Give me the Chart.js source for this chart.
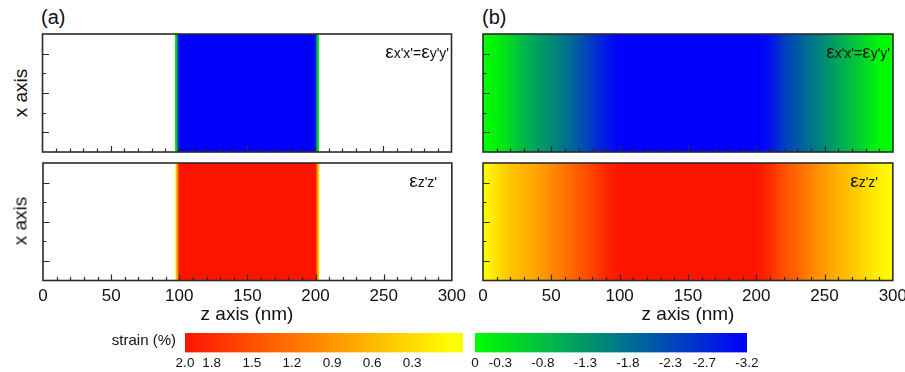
<!DOCTYPE html>
<html>
<head>
<meta charset="utf-8">
<script src="https://cdn.jsdelivr.net/npm/chart.js@4.4.1/dist/chart.umd.min.js"></script>
<style>
  body { margin: 0; background: #fff; }
  #wrap { position: relative; width: 905px; height: 372px; overflow: hidden; font-family: "Liberation Sans", Arial, sans-serif; color: #111; }
  canvas { position: absolute; }
  .txt { position: absolute; white-space: nowrap; line-height: 1; }
  .eps { font-size: 19px; }
  .lbl { font-size: 14px; line-height: 20px; text-align: right; }
</style>
</head>
<body>
<div id="wrap">
  <canvas id="topA" width="414" height="122" style="left:40px;top:32px"></canvas>
  <canvas id="topB" width="414" height="122" style="left:481px;top:32px"></canvas>
  <canvas id="botA" width="449" height="158" style="left:22.5px;top:160.5px"></canvas>
  <canvas id="botB" width="450" height="158" style="left:463px;top:160.5px"></canvas>
  <canvas id="barWarm" width="338" height="42" style="left:155px;top:331px"></canvas>
  <canvas id="barCool" width="332" height="42" style="left:445px;top:331px"></canvas>

  <div class="txt" style="left:41px;top:7px;font-size:20px">(a)</div>
  <div class="txt" style="left:482px;top:7px;font-size:20px">(b)</div>
  <div class="txt" style="left:20px;top:93px;font-size:19px;transform:translate(-50%,-50%) rotate(-90deg)">x axis</div>
  <div class="txt" style="left:20px;top:221px;font-size:19px;transform:translate(-50%,-50%) rotate(-90deg)">x axis</div>
  <div class="txt" style="left:247px;top:304px;font-size:19px;transform:translateX(-50%)">z axis (nm)</div>
  <div class="txt" style="left:688px;top:304px;font-size:19px;transform:translateX(-50%)">z axis (nm)</div>
  <div class="txt" style="right:729px;top:332px;font-size:15px">strain (%)</div>

  <div class="txt lbl" style="right:456px;top:42px"><span class="eps">ε</span>x'x'=<span class="eps">ε</span>y'y'</div>
  <div class="txt lbl" style="right:15px;top:42px"><span class="eps">ε</span>x'x'=<span class="eps">ε</span>y'y'</div>
  <div class="txt lbl" style="right:468px;top:171px"><span class="eps">ε</span>z'z'</div>
  <div class="txt lbl" style="right:27px;top:171px"><span class="eps">ε</span>z'z'</div>
</div>
<script>
// (a) strained film only between ~97 and ~203 nm
const zFilm = [97, 98.5, 100, 150, 200, 201.5, 203];
const inPlaneFilm = [0, -0.8, -3.2, -3.2, -3.2, -0.8, 0];
const outPlaneFilm = [0, 0.8, 2.0, 2.0, 2.0, 0.8, 0];

// (b) graded profile over the whole 0-300 nm
const zGraded = [0, 10, 20, 30, 40, 50, 60, 70, 80, 90, 100, 110, 120, 130, 140, 150,
                 160, 170, 180, 190, 200, 210, 220, 230, 240, 250, 260, 270, 280, 290, 300];
const inPlaneGraded = [0, -0.15, -0.5, -0.9, -1.2, -1.45, -1.75, -2.1, -2.5, -2.9, -3.2,
                       -3.2, -3.2, -3.2, -3.2, -3.2, -3.2, -3.2, -3.2, -3.2, -3.2,
                       -3.0, -2.45, -2.1, -1.75, -1.45, -1.1, -0.8, -0.45, -0.1, 0];
const outPlaneGraded = [0, 0.25, 0.5, 0.65, 0.8, 1.0, 1.2, 1.4, 1.6, 1.85, 2.0,
                        2.0, 2.0, 2.0, 2.0, 2.0, 2.0, 2.0, 2.0, 2.0, 2.0,
                        1.8, 1.5, 1.3, 1.05, 0.85, 0.65, 0.5, 0.3, 0.12, 0];

const zTickLabels = [0, 50, 100, 150, 200, 250, 300];
const rowTop = 6;   // x axis has no numbers, only 6 tick rows

// colour maps
const coolStops = [0, -3.2];
const coolColors = ['#00ff00', '#0000ff'];
const warmStops = [0, 2.0];
const warmColors = ['#ffff00', '#ff1400'];

// colour bars
const warmBar = [2.0, -0.08];
const coolBar = [0, -3.2];
const warmTicks = [2.0, 1.8, 1.5, 1.2, 0.9, 0.6, 0.3];
const warmTickLabels = ['2.0', '1.8', '1.5', '1.2', '0.9', '0.6', '0.3'];
const coolTicks = [0, -0.3, -0.8, -1.3, -1.8, -2.3, -2.7, -3.2];
const coolTickLabels = ['0', '-0.3', '-0.8', '-1.3', '-1.8', '-2.3', '-2.7', '-3.2'];

const fontFamily = '"Liberation Sans", Arial, sans-serif';

function hexRgb(h) {
    return [parseInt(h.slice(1, 3), 16), parseInt(h.slice(3, 5), 16), parseInt(h.slice(5, 7), 16)];
}

function colorAt(v, stops, colors) {
    let f = (v - stops[0]) / (stops[stops.length - 1] - stops[0]);
    f = Math.max(0, Math.min(1, f));
    const seg = f * (colors.length - 1);
    const i = Math.min(Math.floor(seg), colors.length - 2);
    const t = seg - i;
    const a = hexRgb(colors[i]), b = hexRgb(colors[i + 1]);
    const c = a.map((ch, k) => Math.round(ch + (b[k] - ch) * t));
    return `rgb(${c[0]},${c[1]},${c[2]})`;
}

function stripGradient(chart, zs, vals, stops, colors) {
    if (!chart.chartArea) return colors[0];
    const xs = chart.scales.x;
    const x0 = xs.getPixelForValue(zs[0]);
    const x1 = xs.getPixelForValue(zs[zs.length - 1]);
    const g = chart.ctx.createLinearGradient(x0, 0, x1, 0);
    zs.forEach((z, i) => {
        g.addColorStop((xs.getPixelForValue(z) - x0) / (x1 - x0), colorAt(vals[i], stops, colors));
    });
    return g;
}

// box round the plot plus inward ticks
const framePlugin = {
    id: 'frame',
    afterDatasetsDraw(chart) {
        const { ctx, chartArea: a, scales: { x, y } } = chart;
        ctx.save();
        ctx.strokeStyle = '#2b2b2b';
        ctx.lineWidth = 1.2;
        ctx.beginPath();
        x.ticks.forEach(t => {
            if (t.value <= x.min || t.value >= x.max) return;
            const px = Math.round(x.getPixelForValue(t.value)) + 0.5;
            const len = t.value % 50 === 0 ? 6 : 3.5;
            ctx.moveTo(px, a.bottom);
            ctx.lineTo(px, a.bottom - len);
        });
        y.ticks.forEach(t => {
            if (t.value <= y.min || t.value >= y.max) return;
            const py = Math.round(y.getPixelForValue(t.value)) + 0.5;
            const len = t.value % 2 === 1 ? 6.5 : 3.5;
            ctx.moveTo(a.left, py);
            ctx.lineTo(a.left + len, py);
        });
        ctx.stroke();
        ctx.lineWidth = 1.6;
        ctx.strokeRect(a.left, a.top, a.width, a.height);
        ctx.restore();
    }
};

function makePanel(id, zs, vals, stops, colors, showLabels, padding) {
    return new Chart(document.getElementById(id), {
        type: 'line',
        data: {
            datasets: [{
                data: zs.map(z => ({ x: z, y: rowTop })),
                fill: 'start',
                borderWidth: 0,
                pointRadius: 0,
                tension: 0,
                backgroundColor: c => stripGradient(c.chart, zs, vals, stops, colors)
            }]
        },
        options: {
            responsive: false,
            animation: false,
            events: [],
            layout: { padding: padding },
            plugins: { legend: { display: false }, tooltip: { enabled: false } },
            scales: {
                x: {
                    type: 'linear',
                    min: 0,
                    max: 300,
                    display: showLabels,
                    grid: { display: false, drawTicks: false },
                    border: { display: false },
                    ticks: {
                        stepSize: 10,
                        autoSkip: false,
                        maxRotation: 0,
                        padding: 6,
                        color: '#111',
                        font: { size: 17, family: fontFamily },
                        callback: v => zTickLabels.includes(v) ? String(v) : ''
                    }
                },
                y: {
                    type: 'linear',
                    min: 0,
                    max: rowTop,
                    display: false,
                    ticks: { stepSize: 1 }
                }
            }
        },
        plugins: [framePlugin]
    });
}

function makeColorbar(id, range, stops, colors, tickVals, tickLabels, axisMin, axisMax) {
    return new Chart(document.getElementById(id), {
        type: 'bar',
        data: {
            labels: ['strain'],
            datasets: [{
                data: [range],
                barPercentage: 1,
                categoryPercentage: 1,
                borderWidth: 0,
                backgroundColor: c => {
                    const ch = c.chart;
                    if (!ch.chartArea) return colors[0];
                    const xs = ch.scales.x;
                    const g = ch.ctx.createLinearGradient(
                        xs.getPixelForValue(stops[0]), 0,
                        xs.getPixelForValue(stops[stops.length - 1]), 0);
                    colors.forEach((col, i) => g.addColorStop(i / (colors.length - 1), col));
                    return g;
                }
            }]
        },
        options: {
            indexAxis: 'y',
            responsive: false,
            animation: false,
            events: [],
            layout: { padding: { left: 30, right: 30, top: 2, bottom: 1 } },
            plugins: { legend: { display: false }, tooltip: { enabled: false } },
            scales: {
                x: {
                    type: 'linear',
                    reverse: true,
                    min: axisMin,
                    max: axisMax,
                    afterBuildTicks: s => { s.ticks = tickVals.map(v => ({ value: v })); },
                    grid: { display: false, drawTicks: false },
                    border: { display: false },
                    ticks: {
                        autoSkip: false,
                        maxRotation: 0,
                        padding: 3,
                        color: '#111',
                        font: { size: 13.5, family: fontFamily },
                        callback: (v, i) => tickLabels[i]
                    }
                },
                y: { display: false }
            }
        }
    });
}

makePanel('topA', zFilm, inPlaneFilm, coolStops, coolColors, false, { left: 2.5, right: 2.5, top: 2, bottom: 2 });
makePanel('topB', zGraded, inPlaneGraded, coolStops, coolColors, false, { left: 2, right: 2, top: 2, bottom: 2 });
makePanel('botA', zFilm, outPlaneFilm, warmStops, warmColors, true, { left: 20, right: 20, top: 2, bottom: 6.1 });
makePanel('botB', zGraded, outPlaneGraded, warmStops, warmColors, true, { left: 20, right: 20, top: 2, bottom: 6.1 });
makeColorbar('barWarm', warmBar, warmStops, warmColors, warmTicks, warmTickLabels, -0.08, 2.0);
makeColorbar('barCool', coolBar, coolStops, coolColors, coolTicks, coolTickLabels, -3.2, 0);
</script>
</body>
</html>
